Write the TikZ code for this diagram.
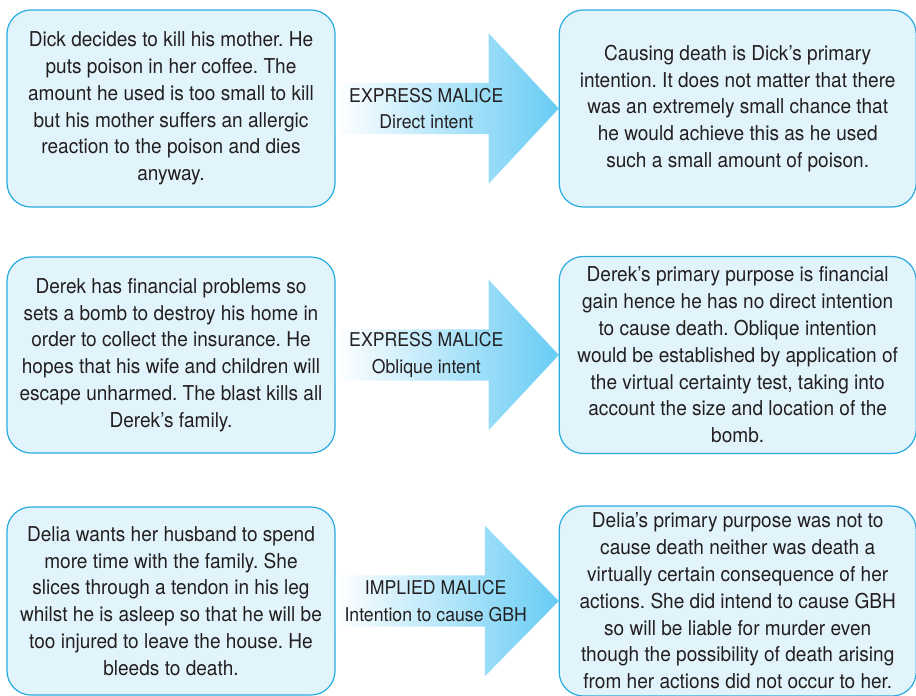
\documentclass[tikz,border=0pt]{standalone}
\usepackage{fontspec}
\setmainfont{TeX Gyre Heros}[FakeStretch=0.93]
\usetikzlibrary{positioning,shapes.arrows}
\definecolor{boxfill}{RGB}{225,243,251}
\definecolor{boxline}{RGB}{41,171,226}
\definecolor{arrowblue}{RGB}{104,204,244}
\definecolor{inktext}{RGB}{35,31,32}
\frenchspacing

\begin{document}
\begin{tikzpicture}[x=1pt,y=-1pt,font=\fontsize{20.5}{26.8}\selectfont,text=inktext]
    \tikzstyle{case box}=[draw=boxline,fill=boxfill,line width=1.2pt,rounded corners=24pt,align=center,inner sep=0pt]
    \tikzstyle{left box}=[case box,minimum width=328pt]
    \tikzstyle{right box}=[case box,minimum width=357pt]
    \tikzstyle{malice arrow}=[single arrow,left color=white,right color=arrowblue,minimum height=223pt,
        inner xsep=0pt,inner ysep=25.5pt,single arrow head extend=49.5pt,single arrow tip angle=94]
    \tikzstyle{malice text}=[align=center,inner sep=0pt,font=\fontsize{19}{26.8}\selectfont]

    \useasboundingbox (0,0) rectangle (916,696);

    % facts of each case on the left, the legal reading on the right
    \node(case1)[left box,minimum height=197pt] at (171,108.5){Dick decides to kill his mother. He\\
        puts poison in her coffee. The\\amount he used is too small to kill\\
        but his mother suffers an allergic\\reaction to the poison and dies\\anyway.};
    \node(note1)[right box,minimum height=197pt,right=223pt of case1]{Causing death is Dick’s primary\\
        intention. It does not matter that there\\was an extremely small chance that\\
        he would achieve this as he used\\such a small amount of poison.};

    \node(case2)[left box,minimum height=196pt] at (171,355){Derek has financial problems so\\
        sets a bomb to destroy his home in\\order to collect the insurance. He\\
        hopes that his wife and children will\\escape unharmed. The blast kills all\\Derek’s family.};
    \node(note2)[right box,minimum height=197pt,right=223pt of case2]{Derek’s primary purpose is financial\\
        gain hence he has no direct intention\\to cause death. Oblique intention\\
        would be established by application of\\the virtual certainty test, taking into\\
        account the size and location of the\\bomb.};

    \node(case3)[left box,minimum height=188pt] at (171,601){Delia wants her husband to spend\\
        more time with the family. She\\slices through a tendon in his leg\\
        whilst he is asleep so that he will be\\too injured to leave the house. He\\bleeds to death.};
    \node(note3)[right box,minimum height=190pt,right=223pt of case3]{Delia’s primary purpose was not to\\
        cause death neither was death a\\virtually certain consequence of her\\
        actions. She did intend to cause GBH\\so will be liable for murder even\\
        though the possibility of death arising\\from her actions did not occur to her.};

    \node(malice1)[malice arrow,anchor=tail] at (case1.east){};
    \node(malice2)[malice arrow,anchor=tail] at (case2.east){};
    \node(malice3)[malice arrow,anchor=tail,single arrow tip angle=91] at (case3.east){};

    \node[malice text] at ([xshift=-9pt]malice1.center){EXPRESS MALICE\\Direct intent};
    \node[malice text] at ([xshift=-9pt]malice2.center){EXPRESS MALICE\\Oblique intent};
    \node[malice text] at ([xshift=1pt]malice3.center){IMPLIED MALICE\\Intention to cause GBH};
\end{tikzpicture}
\end{document}
